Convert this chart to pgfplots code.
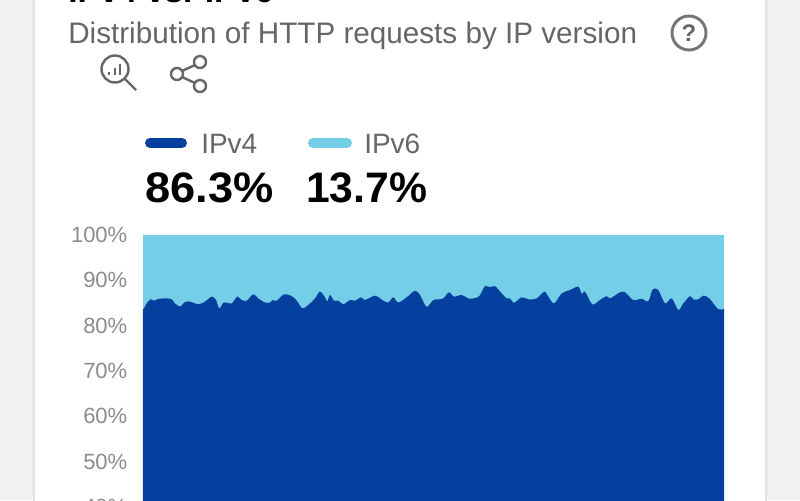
\documentclass[border=0pt]{standalone}
\usepackage{graphicx}
\usepackage{pgfplots}
\usepackage{fontspec}
\setmainfont{Liberation Sans}
\pgfplotsset{compat=1.18}
\definecolor{vfour}{HTML}{05409F}
\definecolor{vsix}{HTML}{74CEE8}
\definecolor{txt}{HTML}{666666}
\definecolor{tick}{HTML}{8C8C8C}
\definecolor{side}{HTML}{F1F1F1}
\definecolor{edge}{HTML}{E2E2E2}
\newcommand{\fs}[1]{\fontsize{#1}{#1}\selectfont}
\begin{document}
\begin{tikzpicture}
\path[use as bounding box,clip] (0pt,0pt) rectangle (600pt,-375pt);
\begin{scope}[x=0.75pt,y=-0.75pt]
\fill[side] (0,0) rectangle (800,500);
\fill[white] (35,-5) rectangle (765,505);
\draw[edge,line width=1.5pt] (34,-5) -- (34,505) (766,-5) -- (766,505);
% heading
\node[anchor=base west,inner sep=0,font=\fs{25pt}\bfseries] at (68,2.5) {IPv4 vs. IPv6};
\node[anchor=base west,inner sep=0,text=txt,font=\fs{22.25pt}] at (68,43) {Distribution of HTTP requests by IP version};
% icons
\draw[txt!90,line width=2.2pt] (689,33) circle (17);
\node[text=txt,font=\fs{18pt}\bfseries] at (689,33) {?};
\draw[txt,line width=1.8pt] (115,69) circle (13.5);
\draw[txt,line width=1.8pt] (125,79) -- (136,90);
\draw[txt,line width=2pt] (109,75) -- (109,72) (115,75) -- (115,68) (120,75) -- (120,64);
\draw[txt,line width=1.8pt] (182,71) -- (195,65) (182,77) -- (195,83);
\draw[txt,line width=1.8pt] (200,62) circle (6) (177,74) circle (6) (200,86) circle (6);
% legend
\draw[vfour,line width=7.5pt,line cap=round] (150,143) -- (182,143);
\draw[vsix,line width=7.5pt,line cap=round] (313,143) -- (347,143);
\node[anchor=base west,inner sep=0,text=txt,font=\fs{21pt}] at (201,153) {IPv4};
\node[anchor=base west,inner sep=0,text=txt,font=\fs{21pt}] at (364,153) {IPv6};
\node[anchor=base west,inner sep=0,font=\fs{32pt}\bfseries] at (145,202.5) {\scalebox{1.06}[1]{86.3\%}};
\node[anchor=base west,inner sep=0,font=\fs{32pt}\bfseries] at (306,202.5) {13.7\%};
\coordinate (A) at (143,235);
\end{scope}
\begin{axis}[
  at={(A)},anchor=north west,
  scale only axis,
  width=435.75pt,height=237.825pt,
  xmin=0,xmax=581,ymin=30,ymax=100,
  axis line style={draw=none},
  xtick=\empty,
  ytick={30,40,50,60,70,80,90,100},
  major tick length=0pt,
  /pgf/number format/assume math mode=true,
  yticklabel={\pgfmathprintnumber{\tick}\%},
  yticklabel style={text=tick,font=\fs{16.5pt},xshift=-8.25pt},
  clip=true,
]
\addplot[draw=none,fill=vsix] coordinates {(0,100)(581,100)(581,30)(0,30)} -- cycle;
\addplot[draw=none,fill=vfour,smooth,tension=0.5] coordinates {
(0,83.6)(1,83.8)(3.7,84.9)(7.7,85.8)(11,85.5)(15.3,85.9)(23.7,86.0)(28.7,85.8)(32,84.9)(37,84.2)
(42,85.2)(47,85.3)(55.3,84.7)(62,85.3)(68.7,86.4)(73,85.65)(76.3,83.8)(80.3,85.05)(84.3,85.05)(88.7,84.9)
(94.3,86.4)(98.7,85.65)(103.7,85.5)(110.3,86.9)(115.3,86.0)(122,85.1)(127,85.1)(129.7,85.65)(133.7,85.5)(141,86.9)
(148.7,86.5)(153.7,85.5)(159.7,83.8)(167,84.9)(172,86.0)(177,87.5)(182,86.25)(184.3,85.3)(187,86.75)(191,85.5)
(195.3,85.5)(200.3,84.7)(207,85.65)(212,85.5)(218,86.25)(222,85.65)(232,86.6)(240.3,85.5)(245.3,85.1)(250.3,86.25)
(255.3,85.1)(263.7,86.25)(272,87.7)(277,86.75)(282,84.55)(284.7,84.2)(290.3,85.65)(295.3,85.8)(300.3,86.0)(306,87.35)
(311,86.4)(318.7,86.75)(325.3,86.0)(330.3,86.0)(336.3,86.5)(342,88.7)(347,88.45)(352,88.7)(358.7,87.1)(363.7,86.0)
(367,86.0)(371,85.05)(378.7,86.25)(385.3,85.8)(393.7,86.0)(401.3,87.5)(405.3,86.4)(411,84.9)(418.7,87.1)(427,87.85)
(435.3,88.6)(438.7,87.0)(442,87.5)(449.3,84.7)(457,85.65)(463.7,86.5)(467,86.0)(477,87.35)(482,87.35)(490.3,85.65)
(498.7,85.9)(505.3,85.4)(509.7,88.0)(515.3,87.85)(522,84.9)(528.7,86.0)(535.3,83.45)(540.3,84.9)(547,86.5)(550.3,85.8)
(555.3,85.8)(560.3,86.6)(566.3,86.0)(575.3,83.6)(581,83.7)
} \closedcycle;
\end{axis}
\end{tikzpicture}
\end{document}
